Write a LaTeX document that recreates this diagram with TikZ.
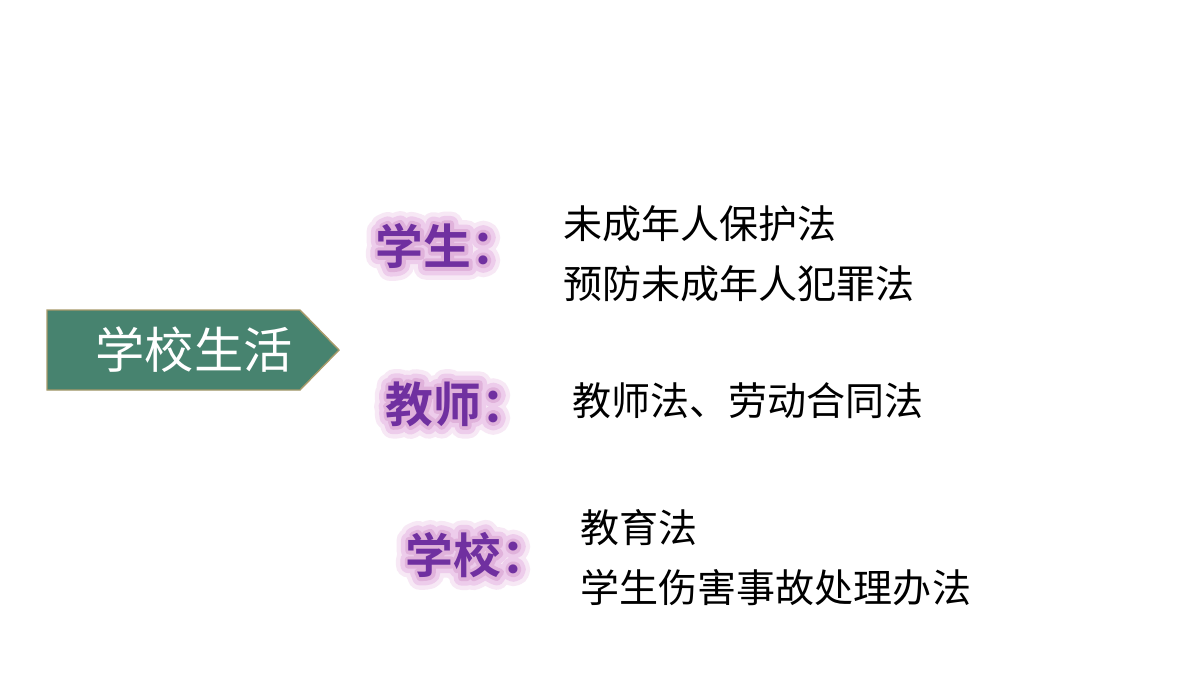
\documentclass[tikz,border=0pt]{standalone}
\usepackage{fontspec}
\newfontfamily\cjk{Noto Sans CJK SC}
\newfontfamily\cjkbold{Noto Sans CJK SC Bold}
\usepackage{tikz}
\usetikzlibrary{positioning}

\definecolor{banner}{HTML}{47836F}
\definecolor{bannerrim}{HTML}{A89A6A}
\definecolor{lawpurple}{HTML}{7030A0}

\tikzset{
    law/.style={anchor=west,inner sep=0pt,font=\cjk\fontsize{11.1pt}{13pt}\selectfont},
    who/.style={anchor=west,inner sep=0pt,text=lawpurple,
        font=\cjkbold\fontsize{13.6pt}{15pt}\selectfont}
}

% outlined copy of a heading, stroke width and rgb colour
\newcommand{\halo}[3]{%
    \special{pdf:literal 1 Tr #1 w 1 J 1 j #2 RG}#3\special{pdf:literal 0 Tr 0.4 w}}

% glowing purple heading: name, position, text
\newcommand{\glowlabel}[3]{%
    \node [who] at (#2) {\halo{7}{0.97 0.91 0.96}{#3}};
    \node [who] at (#2) {\halo{4.5}{0.93 0.80 0.92}{#3}};
    \node [who] at (#2) {\halo{2}{0.88 0.70 0.86}{#3}};
    \node [who] (#1) at (#2) {#3};
}

\begin{document}
\begin{tikzpicture}[x=0.01cm,y=-0.01cm]
        \useasboundingbox [fill=white] (0,0) rectangle (1200,675);

        % Banner
        \draw [fill=banner,draw=bannerrim,line width=0.4pt]
            (47,310) -- (300,310) -- (339,350) -- (300,390) -- (47,390) -- cycle;
        \node [anchor=west,inner sep=0pt,text=white,
            font=\cjk\fontsize{14pt}{16pt}\selectfont] (life) at (95,350) {学校生活};

        % Headings
        \glowlabel{student}{375,246}{学生：}
        \glowlabel{teacher}{385,404}{教师：}
        \glowlabel{school}{405,555}{学校：}

        % Laws
        \node [law] (minor) at (563,224) {未成年人保护法};
        \node [law,below=0.6cm of minor.south west,anchor=south west] (crime) {预防未成年人犯罪法};
        \node [law] (labour) at (572,401) {教师法、劳动合同法};
        \node [law] (edu) at (580,528) {教育法};
        \node [law,below=0.6cm of edu.south west,anchor=south west] (injury) {学生伤害事故处理办法};
    \end{tikzpicture}
\end{document}
